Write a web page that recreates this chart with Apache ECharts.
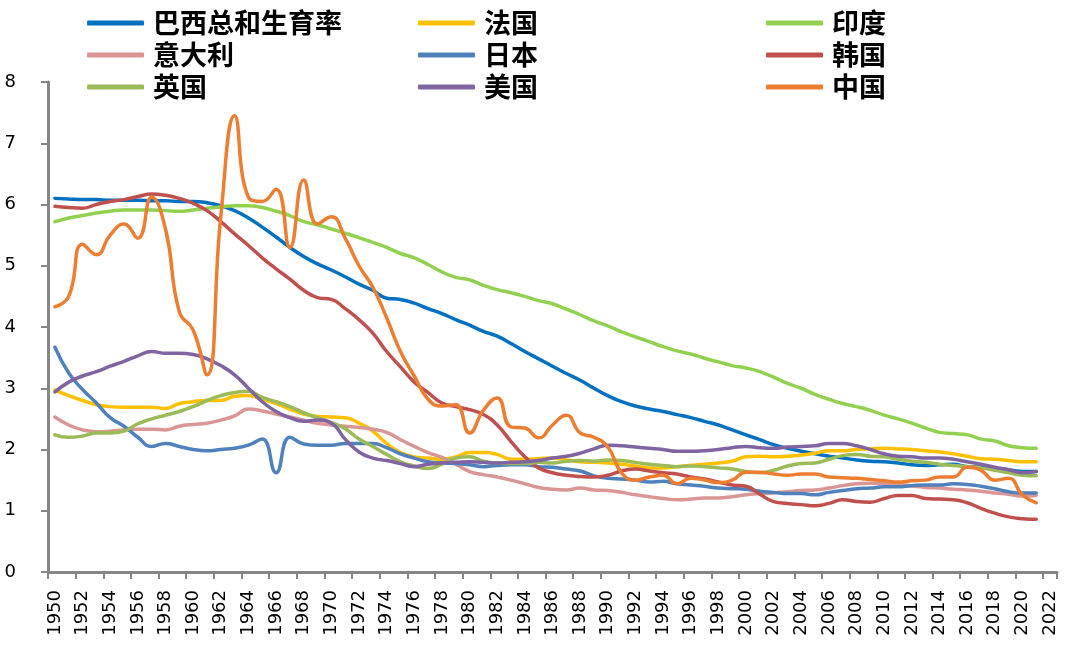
<!DOCTYPE html>
<html>
<head>
<meta charset="utf-8">
<script src="https://cdn.jsdelivr.net/npm/echarts@6/dist/echarts.min.js"></script>
<style>
html,body{margin:0;padding:0;background:#fff;}
#chart{width:1080px;height:651px;}
</style>
</head>
<body>
<div id="chart"></div>
<script>
// Categories: 1950..2022 (data through 2021)
const years = [];
for (let y = 1950; y <= 2022; y++) years.push(String(y));

const brazil = [6.10,6.09,6.08,6.08,6.07,6.07,6.07,6.06,6.06,6.05,6.05,6.03,5.98,5.90,5.78,5.63,5.47,5.30,5.15,5.03,4.93,4.82,4.70,4.60,4.47,4.45,4.39,4.30,4.22,4.12,4.03,3.93,3.85,3.73,3.60,3.48,3.36,3.24,3.13,3.00,2.88,2.78,2.71,2.66,2.62,2.57,2.52,2.46,2.40,2.32,2.24,2.16,2.08,2.02,1.97,1.93,1.89,1.86,1.83,1.81,1.80,1.78,1.75,1.74,1.75,1.76,1.72,1.71,1.69,1.67,1.64,1.64];
const france = [2.97,2.88,2.80,2.73,2.70,2.69,2.69,2.69,2.67,2.75,2.78,2.80,2.80,2.87,2.88,2.82,2.75,2.66,2.58,2.54,2.53,2.52,2.43,2.30,2.10,1.95,1.88,1.86,1.84,1.88,1.95,1.95,1.92,1.84,1.84,1.85,1.86,1.83,1.80,1.79,1.78,1.76,1.73,1.70,1.70,1.72,1.74,1.76,1.78,1.81,1.88,1.89,1.88,1.89,1.91,1.94,1.98,1.98,2.00,2.01,2.02,2.01,2.00,1.98,1.96,1.93,1.89,1.85,1.84,1.82,1.80,1.80];
const india = [5.72,5.78,5.82,5.86,5.89,5.91,5.91,5.91,5.90,5.89,5.91,5.94,5.96,5.98,5.98,5.95,5.89,5.82,5.72,5.67,5.60,5.53,5.46,5.38,5.30,5.20,5.13,5.02,4.90,4.81,4.77,4.68,4.61,4.56,4.50,4.43,4.38,4.29,4.20,4.10,4.02,3.92,3.84,3.76,3.68,3.61,3.56,3.49,3.43,3.37,3.33,3.27,3.18,3.08,3.00,2.90,2.82,2.75,2.70,2.64,2.56,2.50,2.43,2.35,2.28,2.26,2.24,2.17,2.14,2.06,2.03,2.02];
const italy = [2.53,2.40,2.32,2.29,2.30,2.32,2.33,2.33,2.32,2.38,2.41,2.43,2.48,2.55,2.66,2.63,2.58,2.53,2.48,2.43,2.40,2.38,2.36,2.33,2.28,2.16,2.05,1.95,1.87,1.76,1.64,1.59,1.55,1.50,1.44,1.38,1.35,1.34,1.37,1.34,1.33,1.30,1.26,1.23,1.20,1.18,1.19,1.21,1.21,1.23,1.26,1.28,1.29,1.31,1.33,1.34,1.37,1.41,1.44,1.45,1.45,1.43,1.41,1.38,1.37,1.35,1.34,1.32,1.29,1.27,1.24,1.25];
const japan = [3.67,3.25,2.98,2.76,2.52,2.38,2.20,2.05,2.10,2.05,2.00,1.98,2.00,2.02,2.07,2.17,1.62,2.20,2.09,2.07,2.07,2.10,2.10,2.10,2.03,1.93,1.86,1.80,1.78,1.77,1.75,1.72,1.74,1.75,1.75,1.72,1.71,1.68,1.65,1.57,1.53,1.52,1.50,1.47,1.48,1.44,1.42,1.40,1.37,1.36,1.35,1.32,1.30,1.28,1.28,1.26,1.30,1.33,1.36,1.37,1.39,1.39,1.41,1.42,1.42,1.44,1.43,1.40,1.36,1.31,1.29,1.29];
const korea = [5.97,5.95,5.94,6.00,6.05,6.08,6.13,6.17,6.15,6.10,6.02,5.90,5.72,5.52,5.33,5.13,4.95,4.78,4.60,4.48,4.45,4.30,4.12,3.90,3.60,3.35,3.10,2.93,2.76,2.70,2.65,2.57,2.40,2.13,1.88,1.70,1.62,1.58,1.56,1.55,1.58,1.65,1.68,1.65,1.62,1.60,1.55,1.52,1.47,1.42,1.40,1.27,1.15,1.12,1.10,1.08,1.12,1.18,1.15,1.14,1.20,1.25,1.25,1.20,1.19,1.18,1.13,1.04,0.96,0.90,0.87,0.86];
const uk = [2.24,2.20,2.22,2.27,2.27,2.30,2.42,2.50,2.56,2.62,2.70,2.80,2.88,2.93,2.95,2.85,2.78,2.70,2.60,2.52,2.44,2.34,2.17,2.05,1.92,1.80,1.73,1.69,1.76,1.86,1.88,1.81,1.78,1.77,1.77,1.79,1.78,1.81,1.82,1.81,1.83,1.82,1.79,1.76,1.74,1.72,1.73,1.72,1.70,1.68,1.64,1.62,1.66,1.73,1.77,1.78,1.84,1.90,1.92,1.89,1.88,1.84,1.81,1.79,1.76,1.74,1.72,1.70,1.66,1.62,1.58,1.57];
const usa = [2.94,3.10,3.20,3.27,3.36,3.44,3.53,3.60,3.57,3.57,3.55,3.48,3.37,3.22,3.00,2.78,2.62,2.52,2.46,2.48,2.43,2.17,1.96,1.86,1.82,1.77,1.72,1.76,1.78,1.79,1.80,1.79,1.78,1.79,1.80,1.82,1.86,1.89,1.94,2.01,2.07,2.06,2.04,2.02,2.00,1.97,1.97,1.98,2.00,2.03,2.05,2.03,2.02,2.04,2.05,2.06,2.10,2.10,2.06,2.00,1.93,1.89,1.88,1.86,1.86,1.84,1.80,1.76,1.71,1.67,1.62,1.64];
const china = [4.33,4.50,5.35,5.18,5.50,5.68,5.45,6.12,5.60,4.25,3.95,3.22,5.80,7.45,6.12,6.05,6.25,5.30,6.40,5.68,5.80,5.45,5.00,4.65,4.15,3.60,3.20,2.82,2.71,2.73,2.27,2.64,2.84,2.37,2.35,2.19,2.40,2.56,2.27,2.20,2.04,1.62,1.50,1.55,1.58,1.44,1.53,1.50,1.46,1.50,1.63,1.63,1.60,1.58,1.60,1.60,1.55,1.54,1.53,1.51,1.49,1.47,1.49,1.50,1.55,1.55,1.71,1.66,1.50,1.53,1.26,1.13];

const names = ['巴西总和生育率','法国','印度','意大利','日本','韩国','英国','美国','中国'];
const colors = ['#0070C0','#FFC000','#92D050','#D99694','#4F81BD','#C0504D','#9BBB59','#8064A2','#ED7D31'];
const values = [brazil, france, india, italy, japan, korea, uk, usa, china];

const legendText = {fontSize: 27, fontWeight: 'bold', color: '#000', fontFamily: '"Noto Sans CJK SC"', lineHeight: 32, padding: [0,0,0,4]};
function mkLegend(left, data) {
  return {
    orient: 'vertical', left: left, top: 2, itemGap: 0,
    itemWidth: 57, itemHeight: 5, icon: 'roundRect',
    textStyle: legendText, data: data, selectedMode: false
  };
}

const chart = echarts.init(document.getElementById('chart'), null, {renderer: 'canvas'});
chart.setOption({
  animation: false,
  backgroundColor: '#fff',
  legend: [
    mkLegend(82, ['巴西总和生育率','意大利','英国']),
    mkLegend(413, ['法国','日本','美国']),
    mkLegend(761, ['印度','韩国','中国'])
  ],
  grid: {left: 48, right: 23, top: 82, bottom: 79, containLabel: false},
  xAxis: {
    type: 'category', data: years, boundaryGap: true,
    axisLine: {show: true, lineStyle: {color: '#868686', width: 3}},
    axisTick: {show: true, interval: 1, length: 7, lineStyle: {color: '#868686', width: 2}},
    axisLabel: {interval: 1, rotate: 90, margin: 18, fontSize: 18, color: '#000', fontFamily: '"DejaVu Sans"'},
    splitLine: {show: false}
  },
  yAxis: {
    type: 'value', min: 0, max: 8, interval: 1,
    axisLine: {show: true, lineStyle: {color: '#868686', width: 3}},
    axisTick: {show: true, length: 7, lineStyle: {color: '#868686', width: 2}},
    axisLabel: {margin: 32, fontSize: 18, color: '#000', fontFamily: '"DejaVu Sans"'},
    splitLine: {show: false}
  },
  series: names.map((n, i) => ({
    name: n, type: 'line', data: values[i], smooth: 0.5, showSymbol: false, symbol: 'none',
    lineStyle: {color: colors[i], width: 3.5, cap: 'round'}, itemStyle: {color: colors[i]}
  }))
});
</script>
</body>
</html>
